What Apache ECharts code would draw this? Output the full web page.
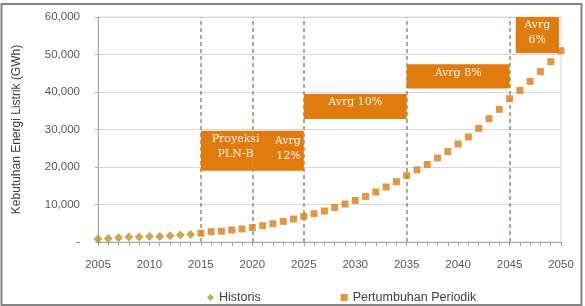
<!DOCTYPE html>
<html>
<head>
<meta charset="utf-8">
<script src="https://cdn.jsdelivr.net/npm/echarts@6/dist/echarts.min.js"></script>
<style>
  html, body { margin: 0; padding: 0; background: #fff; }
  #main { width: 585px; height: 306px; }
</style>
</head>
<body>
<div id="main"></div>
<script>
// data
var historisYears = [2005, 2006, 2007, 2008, 2009, 2010, 2011, 2012, 2013, 2014];
var historisValues = [800, 960, 1150, 1330, 1330, 1500, 1500, 1680, 1870, 2030];

var periodikYears = [2015, 2016, 2017, 2018, 2019, 2020, 2021, 2022, 2023, 2024,
  2025, 2026, 2027, 2028, 2029, 2030, 2031, 2032, 2033, 2034,
  2035, 2036, 2037, 2038, 2039, 2040, 2041, 2042, 2043, 2044,
  2045, 2046, 2047, 2048, 2049, 2050];
var periodikValues = [2350, 2750, 2880, 3190, 3460, 3850, 4350, 4880, 5500, 6130,
  6830, 7550, 8270, 9200, 10130, 11100, 12160, 13330, 14670, 16080,
  17720, 19250, 20660, 22400, 24120, 26130, 28000, 30300, 32880, 35370,
  38220, 40430, 42830, 45420, 48090, 51020];

// annotation boxes
var boxStart = [2015, 2020, 2025, 2035, 2045.6];
var boxEnd = [2020, 2025, 2035, 2045, 2049.8];
var boxLow = [19000, 19000, 32800, 40950, 50400];
var boxHigh = [29700, 29700, 39500, 47400, 60000];
var boxText = ['Proyeksi\nPLN-B', 'Avrg\n12%', 'Avrg 10%', 'Avrg 8%', 'Avrg\n6%'];
var dividerYears = [2015, 2020, 2025, 2035, 2045];

function pairs(xs, ys) {
  var out = [];
  for (var i = 0; i < xs.length; i++) out.push([xs[i], ys[i]]);
  return out;
}

var areas = [];
for (var i = 0; i < boxText.length; i++) {
  areas.push([
    {
      xAxis: boxStart[i], yAxis: boxHigh[i],
      label: {
        position: i == 1 ? 'insideTopRight' : 'insideTop',
        distance: i == 1 ? 3 : 1,
        offset: i == 0 ? [9, 0] : [0, 0]
      },
      name: boxText[i]
    },
    { xAxis: boxEnd[i], yAxis: boxLow[i] }
  ]);
}

var lines = [];
for (var j = 0; j < dividerYears.length; j++) {
  lines.push({ xAxis: dividerYears[j] });
}

var myChart = echarts.init(document.getElementById('main'));

var option = {
  backgroundColor: '#fff',
  animation: false,
  graphic: [{
    type: 'rect',
    shape: { x: 1.5, y: 4, width: 580, height: 301 },
    style: { fill: 'none', stroke: '#858585', lineWidth: 2 },
    silent: true
  }],
  grid: { left: 98, right: 24, top: 17, bottom: 64, show: true, borderColor: '#d9d9d9', borderWidth: 1 },
  legend: {
    left: 202,
    top: 286,
    itemWidth: 7,
    itemHeight: 7,
    itemGap: 80,
    textStyle: { color: '#404040', fontSize: 12.5, fontFamily: 'Liberation Sans' },
    data: [{ name: 'Historis', icon: 'diamond' }, { name: 'Pertumbuhan Periodik', icon: 'rect' }]
  },
  xAxis: {
    type: 'value',
    min: 2005,
    max: 2050,
    interval: 5,
    axisLine: { lineStyle: { color: '#a6a6a6' } },
    axisTick: { show: true, length: 4, lineStyle: { color: '#a6a6a6' } },
    minorTick: { show: true, splitNumber: 5, length: 4, lineStyle: { color: '#a6a6a6' } },
    splitLine: { show: false },
    axisLabel: {
      color: '#595959', fontSize: 11.5, fontFamily: 'Liberation Sans', margin: 17,
      formatter: function (v) { return String(v); }
    }
  },
  yAxis: {
    type: 'value',
    min: 0,
    max: 60000,
    interval: 10000,
    name: 'Kebutuhan Energi Listrik (GWh)',
    nameLocation: 'middle',
    nameGap: 75,
    nameTextStyle: { color: '#404040', fontSize: 12, fontFamily: 'Liberation Sans' },
    axisLine: { show: true, lineStyle: { color: '#a6a6a6' } },
    axisTick: { show: true, length: 3, lineStyle: { color: '#a6a6a6' } },
    splitLine: { lineStyle: { color: '#d9d9d9' } },
    axisLabel: {
      color: '#595959', fontSize: 11.5, fontFamily: 'Liberation Sans', margin: 18,
      formatter: function (v) { return v === 0 ? '-' : v.toLocaleString('en-US'); }
    }
  },
  series: [
    {
      name: 'Historis',
      type: 'scatter',
      symbol: 'diamond',
      symbolSize: 9,
      itemStyle: { color: '#bf9128' },
      data: pairs(historisYears, historisValues),
      z: 10,
      markLine: {
        silent: true,
        z: 2,
        symbol: 'none',
        label: { show: false },
        lineStyle: { color: '#909070', width: 1.5, type: [4, 3] },
        data: lines
      }
    },
    {
      name: 'Pertumbuhan Periodik',
      type: 'scatter',
      symbol: 'rect',
      symbolSize: 7,
      itemStyle: { color: '#d97e18' },
      data: pairs(periodikYears, periodikValues),
      z: 10,
      markArea: {
        silent: true,
        z: 6,
        itemStyle: { color: '#e07b10' },
        label: {
          show: true,
          color: '#fff8ea',
          fontSize: 11,
          lineHeight: 15,
          fontFamily: 'DejaVu Serif'
        },
        data: areas
      }
    }
  ]
};

myChart.setOption(option);
</script>
</body>
</html>
